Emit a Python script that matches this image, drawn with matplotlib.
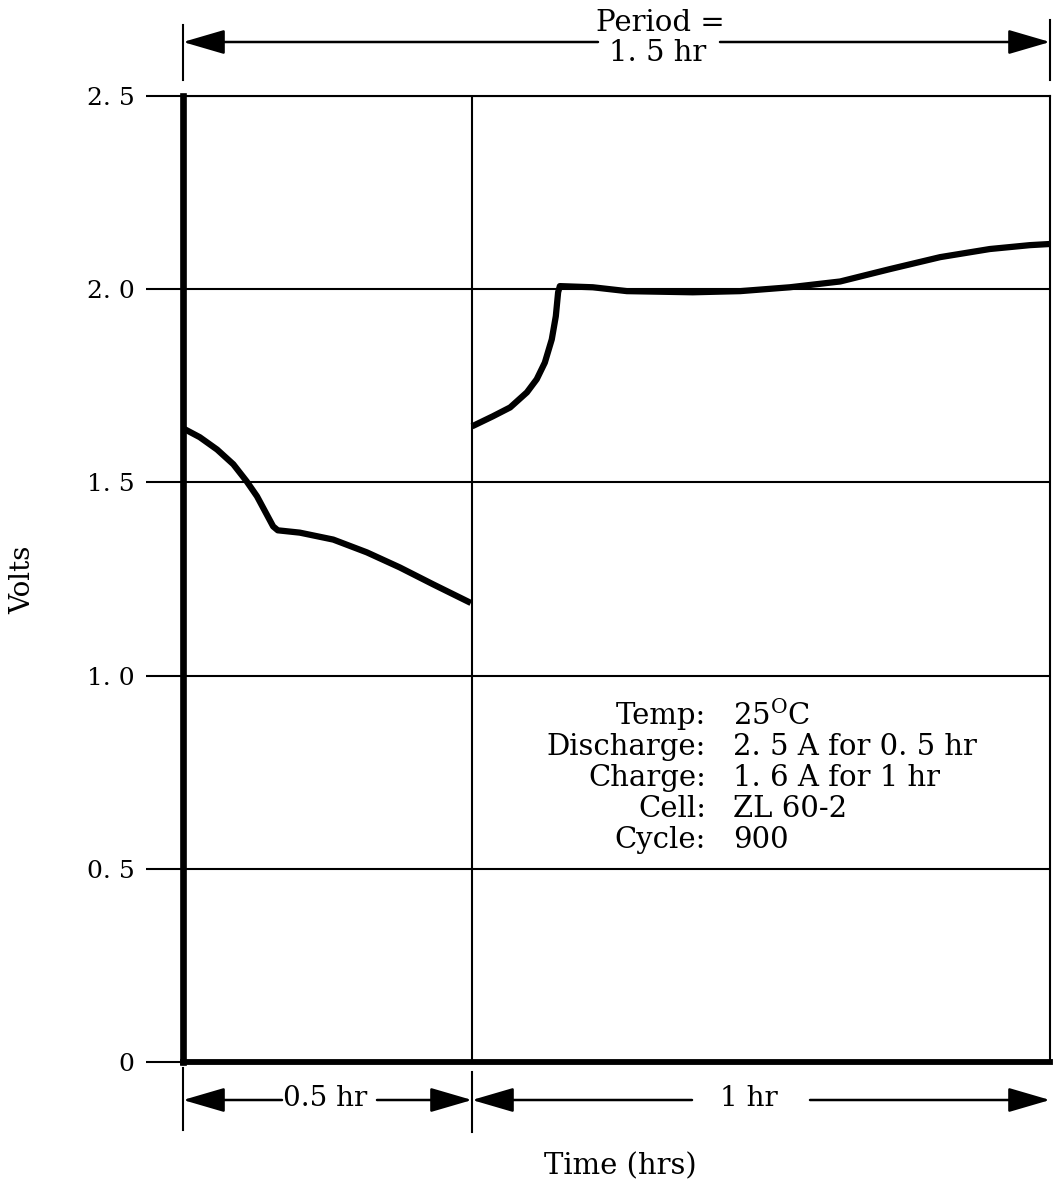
import matplotlib
matplotlib.use("Agg")
import matplotlib.pyplot as plt
from matplotlib.patches import FancyArrowPatch
from matplotlib.lines import Line2D

# ---- data ----
discharge_t = [0.0, 0.029, 0.059, 0.087, 0.110, 0.128, 0.142, 0.156, 0.164,
               0.202, 0.260, 0.318, 0.375, 0.433, 0.498]
discharge_v = [1.640, 1.617, 1.585, 1.547, 1.503, 1.464, 1.425, 1.386, 1.376,
               1.370, 1.352, 1.319, 1.280, 1.236, 1.188]
charge_t = [0.50, 0.536, 0.566, 0.595, 0.612, 0.626, 0.638, 0.645, 0.649,
            0.652, 0.709, 0.768, 0.882, 0.964, 1.05, 1.137, 1.223, 1.31,
            1.396, 1.465, 1.50]
charge_v = [1.645, 1.671, 1.694, 1.733, 1.767, 1.81, 1.870, 1.930, 1.992,
            2.008, 2.005, 1.995, 1.992, 1.995, 2.005, 2.02, 2.052, 2.083,
            2.104, 2.114, 2.117]
y_ticks = [0, 0.5, 1.0, 1.5, 2.0, 2.5]
y_tick_labels = ["0", "0. 5", "1. 0", "1. 5", "2. 0", "2. 5"]
info_keys = ["Temp:", "Discharge:", "Charge:", "Cell:", "Cycle:"]
info_vals = [r"25$^{\mathregular{O}}$C", "2. 5 A for 0. 5 hr", "1. 6 A for 1 hr",
             "ZL 60-2", "900"]
period_label = ["Period =", "1. 5 hr"]
seg_labels = ["0.5 hr", "1 hr"]
seg_bounds = [0.0, 0.5, 1.5]

W, H = 1055, 1185
FONT = "DejaVu Serif"
plt.rcParams['font.family'] = FONT

fig = plt.figure(figsize=(W / 100, H / 100), dpi=100)
ax = fig.add_axes([183 / W, 1 - 1062 / H, (1050 - 183) / W, (1062 - 96) / H])
ax.set_xlim(0, 1.5)
ax.set_ylim(0, 2.5)

def fy(py):
    return 1 - py / H

# grid lines
for yv in y_ticks[1:]:
    ax.axhline(yv, color='black', lw=1.5, zorder=1)
ax.axvline(0.5, color='black', lw=1.5, zorder=1)

# spines
for s in ['top', 'right']:
    ax.spines[s].set_linewidth(1.5)
ax.spines['left'].set_linewidth(4.8)
ax.spines['bottom'].set_linewidth(4.2)

ax.plot(discharge_t, discharge_v, color='black', lw=4.5, solid_capstyle='butt',
        solid_joinstyle='round', zorder=3)
ax.plot(charge_t, charge_v, color='black', lw=4.5, solid_capstyle='butt',
        solid_joinstyle='round', zorder=3)

ax.set_xticks([])
ax.set_yticks(y_ticks)
ax.set_yticklabels(y_tick_labels, fontsize=18)
ax.tick_params(axis='y', direction='out', length=27, width=1.5, pad=8)

# axis labels
fig.text(23 / W, fy(580), "Volts", rotation=90, ha='center', va='center', fontsize=20)
fig.text(620 / W, fy(1166), "Time (hrs)", ha='center', va='center', fontsize=21)

# info text
for i, (k, v) in enumerate(zip(info_keys, info_vals)):
    yy = fy(716 + i * 31)
    fig.text(706 / W, yy, k, ha='right', va='center', fontsize=21)
    fig.text(733 / W, yy, v, ha='left', va='center', fontsize=21)

def xfig(xd):
    return ax.transData.transform((xd, 0))[0] / W

fig.canvas.draw()

def dim_arrow(x_from, x_to, py):
    a = FancyArrowPatch((x_from, fy(py)), (x_to, fy(py)),
                        transform=fig.transFigure,
                        arrowstyle='-|>,head_length=1.3,head_width=0.38',
                        mutation_scale=20, lw=1.8, color='black',
                        shrinkA=0, shrinkB=0)
    fig.add_artist(a)

def vline(xd, py0, py1):
    fig.add_artist(Line2D([xfig(xd), xfig(xd)], [fy(py0), fy(py1)],
                          transform=fig.transFigure, color='black', lw=1.5))

# period dimension
vline(seg_bounds[0], 25, 80)
vline(seg_bounds[2], 20, 80)
dim_arrow(598 / W, xfig(seg_bounds[0]), 42)
dim_arrow(720 / W, xfig(seg_bounds[2]), 42)
fig.text(660 / W, fy(23), period_label[0], ha='center', va='center', fontsize=21)
fig.text(658 / W, fy(53), period_label[1], ha='center', va='center', fontsize=21)

# segment dimensions
vline(seg_bounds[0], 1068, 1130)
vline(seg_bounds[1], 1072, 1132)
dim_arrow(282 / W, xfig(seg_bounds[0]), 1100)
dim_arrow(377 / W, xfig(seg_bounds[1]), 1100)
fig.text(325 / W, fy(1099), seg_labels[0], ha='center', va='center', fontsize=20)
dim_arrow(692 / W, xfig(seg_bounds[1]), 1100)
dim_arrow(810 / W, xfig(seg_bounds[2]), 1100)
fig.text(749 / W, fy(1099), seg_labels[1], ha='center', va='center', fontsize=20)

fig.savefig("out.png", dpi=100)
